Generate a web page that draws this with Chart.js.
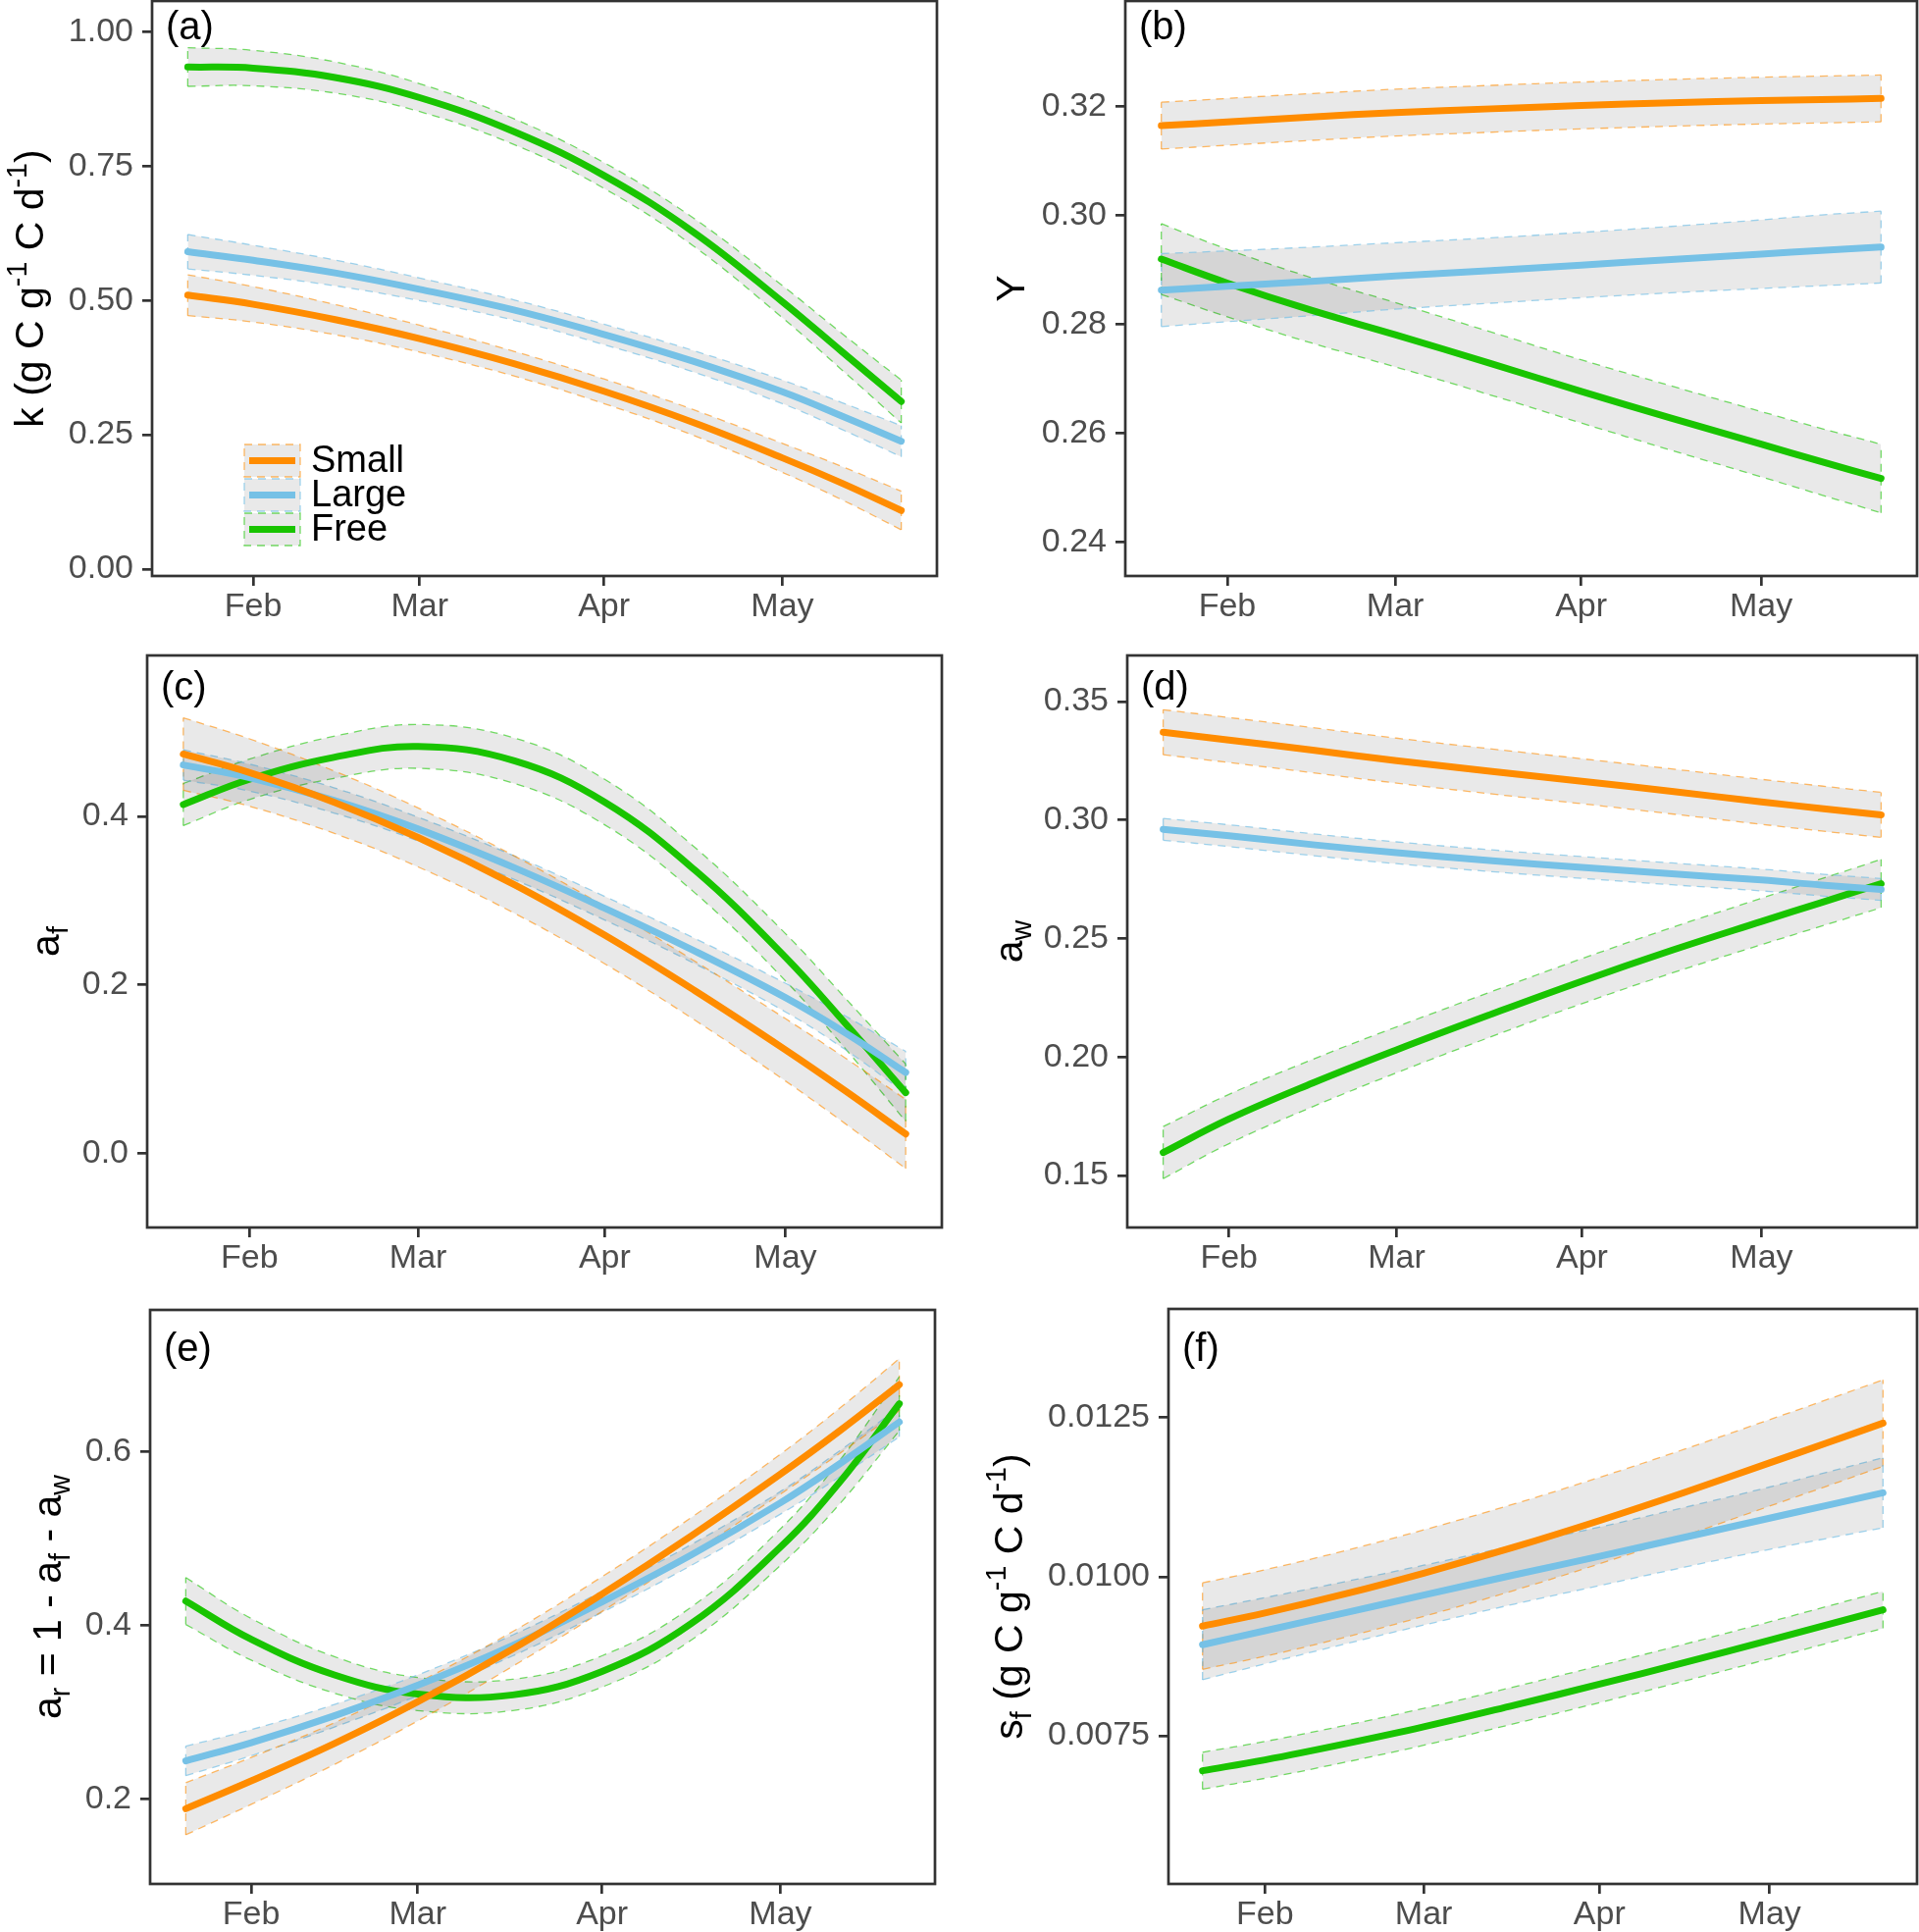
<!DOCTYPE html>
<html>
<head>
<meta charset="utf-8">
<script src="https://cdn.jsdelivr.net/npm/chart.js@4.4.0/dist/chart.umd.min.js"></script>
<style>
  html, body { margin: 0; padding: 0; background: #fff; }
  body { width: 1956px; height: 1969px; position: relative; overflow: hidden; }
  .cell { position: absolute; }
</style>
</head>
<body>
<div class="cell" id="cellA"><canvas id="chartA"></canvas></div>
<div class="cell" id="cellB"><canvas id="chartB"></canvas></div>
<div class="cell" id="cellC"><canvas id="chartC"></canvas></div>
<div class="cell" id="cellD"><canvas id="chartD"></canvas></div>
<div class="cell" id="cellE"><canvas id="chartE"></canvas></div>
<div class="cell" id="cellF"><canvas id="chartF"></canvas></div>
<script>
// day of year (Jan 1 = 0)
const days = [20, 31, 45, 59, 75, 90, 105, 120, 130, 140];
const monthDays = [31, 59, 90, 120];
const monthLabels = ['Feb', 'Mar', 'Apr', 'May'];

const groupNames = ['Small', 'Large', 'Free'];
const groupColors = ['#FF8C00', '#76C1E6', '#19C400'];
const groupEdges = ['rgba(255,140,0,0.6)', 'rgba(118,193,230,0.7)', 'rgba(25,196,0,0.6)'];

/* (a) k */
const kSmall   = [0.510, 0.493, 0.464, 0.429, 0.382, 0.331, 0.273, 0.207, 0.160, 0.109];
const kSmallLo = [0.472, 0.460, 0.436, 0.404, 0.359, 0.308, 0.249, 0.180, 0.129, 0.073];
const kSmallHi = [0.548, 0.526, 0.492, 0.454, 0.405, 0.354, 0.297, 0.234, 0.191, 0.145];
const kLarge   = [0.591, 0.575, 0.551, 0.521, 0.482, 0.437, 0.387, 0.330, 0.285, 0.238];
const kLargeLo = [0.559, 0.547, 0.527, 0.500, 0.463, 0.418, 0.367, 0.308, 0.260, 0.209];
const kLargeHi = [0.623, 0.603, 0.575, 0.542, 0.501, 0.456, 0.407, 0.352, 0.310, 0.267];
const kFree    = [0.935, 0.933, 0.915, 0.878, 0.814, 0.733, 0.628, 0.498, 0.405, 0.312];
const kFreeLo  = [0.899, 0.900, 0.886, 0.852, 0.790, 0.709, 0.602, 0.468, 0.371, 0.272];
const kFreeHi  = [0.971, 0.966, 0.944, 0.904, 0.838, 0.757, 0.654, 0.528, 0.439, 0.352];
const kTicks = [0, 0.25, 0.5, 0.75, 1];
const kTickLabels = ['0.00', '0.25', '0.50', '0.75', '1.00'];

/* (b) Y */
const yieldSmall   = [0.3165, 0.3172, 0.3181, 0.3189, 0.3196, 0.3202, 0.3207, 0.3211, 0.3213, 0.3215];
const yieldSmallLo = [0.3122, 0.3129, 0.3138, 0.3146, 0.3153, 0.3159, 0.3164, 0.3168, 0.3170, 0.3172];
const yieldSmallHi = [0.3208, 0.3215, 0.3224, 0.3232, 0.3239, 0.3245, 0.3250, 0.3254, 0.3256, 0.3258];
const yieldLarge   = [0.2863, 0.2870, 0.2879, 0.2889, 0.2899, 0.2909, 0.2919, 0.2929, 0.2936, 0.2942];
const yieldLargeLo = [0.2796, 0.2805, 0.2816, 0.2828, 0.2839, 0.2849, 0.2858, 0.2866, 0.2871, 0.2876];
const yieldLargeHi = [0.2930, 0.2935, 0.2942, 0.2950, 0.2959, 0.2969, 0.2980, 0.2992, 0.3001, 0.3008];
const yieldFree    = [0.2920, 0.2876, 0.2826, 0.2781, 0.2728, 0.2677, 0.2628, 0.2580, 0.2548, 0.2517];
const yieldFreeLo  = [0.2855, 0.2814, 0.2766, 0.2722, 0.2670, 0.2619, 0.2569, 0.2520, 0.2487, 0.2454];
const yieldFreeHi  = [0.2985, 0.2938, 0.2886, 0.2840, 0.2786, 0.2735, 0.2687, 0.2640, 0.2609, 0.2580];
const yieldTicks = [0.24, 0.26, 0.28, 0.30, 0.32];
const yieldTickLabels = ['0.24', '0.26', '0.28', '0.30', '0.32'];

/* (c) a_f */
const afSmall   = [0.474, 0.452, 0.417, 0.375, 0.319, 0.259, 0.193, 0.123, 0.074, 0.023];
const afSmallLo = [0.431, 0.412, 0.380, 0.340, 0.285, 0.225, 0.158, 0.086, 0.035, -0.018];
const afSmallHi = [0.517, 0.492, 0.454, 0.410, 0.353, 0.293, 0.228, 0.160, 0.113, 0.064];
const afLarge   = [0.461, 0.446, 0.419, 0.385, 0.339, 0.291, 0.240, 0.185, 0.143, 0.096];
const afLargeLo = [0.443, 0.430, 0.404, 0.371, 0.325, 0.277, 0.225, 0.168, 0.123, 0.071];
const afLargeHi = [0.479, 0.462, 0.434, 0.399, 0.353, 0.305, 0.255, 0.202, 0.163, 0.121];
const afFree    = [0.414, 0.444, 0.470, 0.483, 0.466, 0.417, 0.336, 0.233, 0.154, 0.072];
const afFreeLo  = [0.389, 0.420, 0.445, 0.457, 0.439, 0.390, 0.309, 0.205, 0.124, 0.038];
const afFreeHi  = [0.439, 0.468, 0.495, 0.509, 0.493, 0.444, 0.363, 0.261, 0.184, 0.106];
const afTicks = [0.0, 0.2, 0.4];
const afTickLabels = ['0.0', '0.2', '0.4'];

/* (d) a_w */
const awSmall   = [0.3371, 0.3338, 0.3295, 0.3251, 0.3205, 0.3164, 0.3121, 0.3077, 0.3049, 0.3022];
const awSmallLo = [0.3276, 0.3243, 0.3200, 0.3156, 0.3110, 0.3069, 0.3026, 0.2982, 0.2954, 0.2927];
const awSmallHi = [0.3466, 0.3433, 0.3390, 0.3346, 0.3300, 0.3259, 0.3216, 0.3172, 0.3144, 0.3117];
const awLarge   = [0.2961, 0.2934, 0.2896, 0.2862, 0.2828, 0.2800, 0.2773, 0.2747, 0.2726, 0.2707];
const awLargeLo = [0.2915, 0.2888, 0.2850, 0.2816, 0.2782, 0.2754, 0.2727, 0.2701, 0.2680, 0.2661];
const awLargeHi = [0.3007, 0.2980, 0.2942, 0.2908, 0.2874, 0.2846, 0.2819, 0.2793, 0.2772, 0.2753];
const awFree    = [0.1596, 0.1738, 0.1890, 0.2030, 0.2182, 0.2320, 0.2450, 0.2572, 0.2652, 0.2732];
const awFreeLo  = [0.1486, 0.1634, 0.1790, 0.1933, 0.2087, 0.2225, 0.2354, 0.2474, 0.2552, 0.2630];
const awFreeHi  = [0.1706, 0.1842, 0.1990, 0.2127, 0.2277, 0.2415, 0.2546, 0.2670, 0.2752, 0.2834];
const awTicks = [0.15, 0.20, 0.25, 0.30, 0.35];
const awTickLabels = ['0.15', '0.20', '0.25', '0.30', '0.35'];

/* (e) a_r */
const arSmall   = [0.189, 0.221, 0.264, 0.312, 0.373, 0.436, 0.503, 0.574, 0.624, 0.677];
const arSmallLo = [0.159, 0.194, 0.240, 0.290, 0.353, 0.416, 0.482, 0.551, 0.598, 0.647];
const arSmallHi = [0.219, 0.248, 0.288, 0.334, 0.393, 0.456, 0.524, 0.597, 0.650, 0.707];
const arLarge   = [0.244, 0.265, 0.296, 0.331, 0.377, 0.427, 0.481, 0.541, 0.586, 0.634];
const arLargeLo = [0.227, 0.250, 0.283, 0.319, 0.365, 0.415, 0.469, 0.528, 0.571, 0.617];
const arLargeHi = [0.261, 0.280, 0.309, 0.343, 0.389, 0.439, 0.493, 0.554, 0.601, 0.651];
const arFree    = [0.428, 0.384, 0.343, 0.321, 0.320, 0.347, 0.402, 0.490, 0.565, 0.655];
const arFreeLo  = [0.401, 0.360, 0.322, 0.302, 0.302, 0.329, 0.383, 0.469, 0.540, 0.624];
const arFreeHi  = [0.455, 0.408, 0.364, 0.340, 0.338, 0.365, 0.421, 0.511, 0.590, 0.686];
const arTicks = [0.2, 0.4, 0.6];
const arTickLabels = ['0.2', '0.4', '0.6'];

/* (f) s_f */
const sfSmall   = [0.009224, 0.009429, 0.009726, 0.010056, 0.010466, 0.010882, 0.011325, 0.011790, 0.012100, 0.012415];
const sfSmallLo = [0.008544, 0.008749, 0.009046, 0.009376, 0.009786, 0.010202, 0.010645, 0.011110, 0.011420, 0.011735];
const sfSmallHi = [0.009904, 0.010109, 0.010406, 0.010736, 0.011146, 0.011562, 0.012005, 0.012470, 0.012780, 0.013095];
const sfLarge   = [0.00893, 0.00915, 0.00943, 0.00971, 0.01003, 0.01032, 0.01062, 0.01092, 0.01112, 0.01132];
const sfLargeLo = [0.00838, 0.00863, 0.00894, 0.00924, 0.00957, 0.00986, 0.01015, 0.01043, 0.01060, 0.01077];
const sfLargeHi = [0.00948, 0.00967, 0.00992, 0.01018, 0.01049, 0.01078, 0.01109, 0.01141, 0.01164, 0.01187];
const sfFree    = [0.00695, 0.00712, 0.00737, 0.00764, 0.00798, 0.00831, 0.00865, 0.00900, 0.00924, 0.00948];
const sfFreeLo  = [0.00666, 0.00683, 0.00708, 0.00735, 0.00769, 0.00802, 0.00836, 0.00871, 0.00895, 0.00919];
const sfFreeHi  = [0.00724, 0.00741, 0.00766, 0.00793, 0.00827, 0.00860, 0.00894, 0.00929, 0.00953, 0.00977];
const sfTicks = [0.0075, 0.0100, 0.0125];
const sfTickLabels = ['0.0075', '0.0100', '0.0125'];

const FONT = '"Liberation Sans", Arial, Helvetica, sans-serif';
const BOX = '#333333';
const RIBBON = 'rgba(0,0,0,0.085)';

const panels = [
  { cell: 'cellA', canvas: 'chartA', tag: '(a)', cellLeft: 0,
    box: { l: 155, t: 1, r: 955, b: 587 }, yMin: -0.013, yMax: 1.058,
    ticks: kTicks, tickLabels: kTickLabels, tagDy: 28, titleX: 44, legend: true,
    title: [['k (g C g'], ['-1', 'sup'], [' C d'], ['-1', 'sup'], [')']],
    series: [[kSmall, kSmallLo, kSmallHi], [kLarge, kLargeLo, kLargeHi], [kFree, kFreeLo, kFreeHi]] },
  { cell: 'cellB', canvas: 'chartB', tag: '(b)', cellLeft: 975,
    box: { l: 1147, t: 1, r: 1954, b: 587 }, yMin: 0.2338, yMax: 0.3394,
    ticks: yieldTicks, tickLabels: yieldTickLabels, tagDy: 28, titleX: 1044,
    title: [['Y']],
    series: [[yieldSmall, yieldSmallLo, yieldSmallHi], [yieldLarge, yieldLargeLo, yieldLargeHi], [yieldFree, yieldFreeLo, yieldFreeHi]] },
  { cell: 'cellC', canvas: 'chartC', tag: '(c)', cellLeft: 0,
    box: { l: 150, t: 668, r: 960, b: 1251 }, yMin: -0.088, yMax: 0.591,
    ticks: afTicks, tickLabels: afTickLabels, tagDy: 34, titleX: 60,
    title: [['a'], ['f', 'sub']],
    series: [[afSmall, afSmallLo, afSmallHi], [afLarge, afLargeLo, afLargeHi], [afFree, afFreeLo, afFreeHi]] },
  { cell: 'cellD', canvas: 'chartD', tag: '(d)', cellLeft: 975,
    box: { l: 1149, t: 668, r: 1954, b: 1251 }, yMin: 0.128, yMax: 0.3695,
    ticks: awTicks, tickLabels: awTickLabels, tagDy: 34, titleX: 1042,
    title: [['a'], ['w', 'sub']],
    series: [[awSmall, awSmallLo, awSmallHi], [awLarge, awLargeLo, awLargeHi], [awFree, awFreeLo, awFreeHi]] },
  { cell: 'cellE', canvas: 'chartE', tag: '(e)', cellLeft: 0,
    box: { l: 153, t: 1335, r: 953, b: 1920 }, yMin: 0.1025, yMax: 0.763,
    ticks: arTicks, tickLabels: arTickLabels, tagDy: 41, titleX: 62,
    title: [['a'], ['r', 'sub'], [' = 1 - a'], ['f', 'sub'], [' - a'], ['w', 'sub']],
    series: [[arSmall, arSmallLo, arSmallHi], [arLarge, arLargeLo, arLargeHi], [arFree, arFreeLo, arFreeHi]] },
  { cell: 'cellF', canvas: 'chartF', tag: '(f)', cellLeft: 975,
    box: { l: 1191, t: 1334, r: 1954, b: 1920 }, yMin: 0.00517, yMax: 0.01421,
    ticks: sfTicks, tickLabels: sfTickLabels, tagDy: 42, titleX: 1042,
    title: [['s'], ['f', 'sub'], [' (g C g'], ['-1', 'sup'], [' C d'], ['-1', 'sup'], [')']],
    series: [[sfSmall, sfSmallLo, sfSmallHi], [sfLarge, sfLargeLo, sfLargeHi], [sfFree, sfFreeLo, sfFreeHi]] }
];

function pts(arr) {
  return days.map((d, i) => ({ x: d, y: arr[i] }));
}

function drawRichTitle(ctx, segs, x, yc, size) {
  ctx.save();
  ctx.translate(x, yc);
  ctx.rotate(-Math.PI / 2);
  ctx.fillStyle = '#000';
  ctx.textAlign = 'left';
  ctx.textBaseline = 'alphabetic';
  const parts = segs.map(([t, kind]) => {
    const s = kind ? size * 0.7 : size;
    ctx.font = s + 'px ' + FONT;
    return { t: t, kind: kind, s: s, w: ctx.measureText(t).width };
  });
  const total = parts.reduce((a, p) => a + p.w, 0);
  let cx = -total / 2;
  parts.forEach(p => {
    ctx.font = p.s + 'px ' + FONT;
    const dy = p.kind === 'sup' ? -size * 0.42 : (p.kind === 'sub' ? size * 0.22 : 0);
    ctx.fillText(p.t, cx, dy);
    cx += p.w;
  });
  ctx.restore();
}

function makeChart(p) {
  const cell = document.getElementById(p.cell);
  const top = Math.max(0, p.box.t - 4);
  const bottom = Math.min(1969, p.box.b + 78);
  const right = p.box.r + 2;
  cell.style.left = p.cellLeft + 'px';
  cell.style.top = top + 'px';
  cell.style.width = (right - p.cellLeft) + 'px';
  cell.style.height = (bottom - top) + 'px';

  const datasets = [];
  p.series.forEach((s, i) => {
    const [mid, lo, hi] = s;
    datasets.push({
      data: pts(lo), borderColor: groupEdges[i], borderWidth: 1.3, borderDash: [8, 6],
      pointRadius: 0, fill: false, order: 1, tension: 0.4
    });
    datasets.push({
      data: pts(hi), borderColor: groupEdges[i], borderWidth: 1.3, borderDash: [8, 6],
      pointRadius: 0, fill: '-1', backgroundColor: RIBBON, order: 1, tension: 0.4
    });
    datasets.push({
      label: groupNames[i], data: pts(mid), borderColor: groupColors[i], borderWidth: 7,
      borderCapStyle: 'round', pointRadius: 0, fill: false, order: 0, tension: 0.4
    });
  });

  const decor = {
    id: 'decor' + p.tag,
    beforeDatasetsDraw(chart) {
      // dashed ends of the confidence ribbons
      const ctx = chart.ctx, xs = chart.scales.x, ys = chart.scales.y;
      ctx.save();
      ctx.setLineDash([8, 6]);
      ctx.lineWidth = 1.3;
      p.series.forEach((s, i) => {
        ctx.strokeStyle = groupEdges[i];
        [0, days.length - 1].forEach(j => {
          const x = xs.getPixelForValue(days[j]);
          ctx.beginPath();
          ctx.moveTo(x, ys.getPixelForValue(s[1][j]));
          ctx.lineTo(x, ys.getPixelForValue(s[2][j]));
          ctx.stroke();
        });
      });
      ctx.restore();
    },
    afterDraw(chart) {
      const ctx = chart.ctx, ca = chart.chartArea;
      ctx.save();
      ctx.strokeStyle = BOX;
      ctx.lineWidth = 2.7;
      ctx.strokeRect(ca.left, ca.top, ca.right - ca.left, ca.bottom - ca.top);

      ctx.fillStyle = '#000';
      ctx.font = '40px ' + FONT;
      ctx.textAlign = 'left';
      ctx.textBaseline = 'middle';
      ctx.fillText(p.tag, ca.left + 14, ca.top + p.tagDy);

      if (p.legend) {
        const lx = ca.left + 93, ly = ca.top + 451, kw = 59, kh = 35;
        groupNames.forEach((name, i) => {
          const y = ly + i * kh;
          ctx.fillStyle = RIBBON;
          ctx.fillRect(lx + 1, y + 1, kw - 2, kh - 2);
          ctx.setLineDash([8, 6]);
          ctx.strokeStyle = groupEdges[i];
          ctx.lineWidth = 1.3;
          ctx.strokeRect(lx + 1, y + 1, kw - 2, kh - 2);
          ctx.setLineDash([]);
          ctx.strokeStyle = groupColors[i];
          ctx.lineWidth = 7;
          ctx.beginPath();
          ctx.moveTo(lx + 6, y + kh / 2);
          ctx.lineTo(lx + kw - 6, y + kh / 2);
          ctx.stroke();
          ctx.fillStyle = '#000';
          ctx.font = '38px ' + FONT;
          ctx.textBaseline = 'middle';
          ctx.fillText(name, lx + 69, y + kh / 2 + 1);
        });
      }
      ctx.restore();
      drawRichTitle(ctx, p.title, p.titleX - p.cellLeft, (ca.top + ca.bottom) / 2, 41);
    }
  };

  const tickFont = { family: FONT, size: 34 };
  return new Chart(document.getElementById(p.canvas), {
    type: 'line',
    data: { datasets: datasets },
    options: {
      responsive: true,
      maintainAspectRatio: false,
      animation: false,
      events: [],
      layout: { padding: { left: 0, top: p.box.t - top, right: right - p.box.r, bottom: 0 } },
      plugins: { legend: { display: false }, tooltip: { enabled: false } },
      scales: {
        x: {
          type: 'linear', min: 14, max: 146,
          afterBuildTicks: s => { s.ticks = monthDays.map(v => ({ value: v })); },
          afterFit: s => { s.height = bottom - p.box.b; s.paddingLeft = 0; s.paddingRight = 0; },
          grid: { display: true, drawOnChartArea: false, drawTicks: true, tickLength: 10, color: BOX, lineWidth: 2.7 },
          border: { display: false },
          ticks: { autoSkip: false, maxRotation: 0, padding: 1, color: '#4d4d4d', font: tickFont,
                   callback: (v, i) => monthLabels[i] }
        },
        y: {
          type: 'linear', min: p.yMin, max: p.yMax,
          afterBuildTicks: s => { s.ticks = p.ticks.map(v => ({ value: v })); },
          afterFit: s => { s.width = p.box.l - p.cellLeft; s.paddingTop = 0; s.paddingBottom = 0; },
          grid: { display: true, drawOnChartArea: false, drawTicks: true, tickLength: 10, color: BOX, lineWidth: 2.7 },
          border: { display: false },
          ticks: { autoSkip: false, padding: 9, color: '#4d4d4d', font: tickFont,
                   callback: (v, i) => p.tickLabels[i] }
        }
      }
    },
    plugins: [decor]
  });
}

panels.forEach(makeChart);
</script>
</body>
</html>
